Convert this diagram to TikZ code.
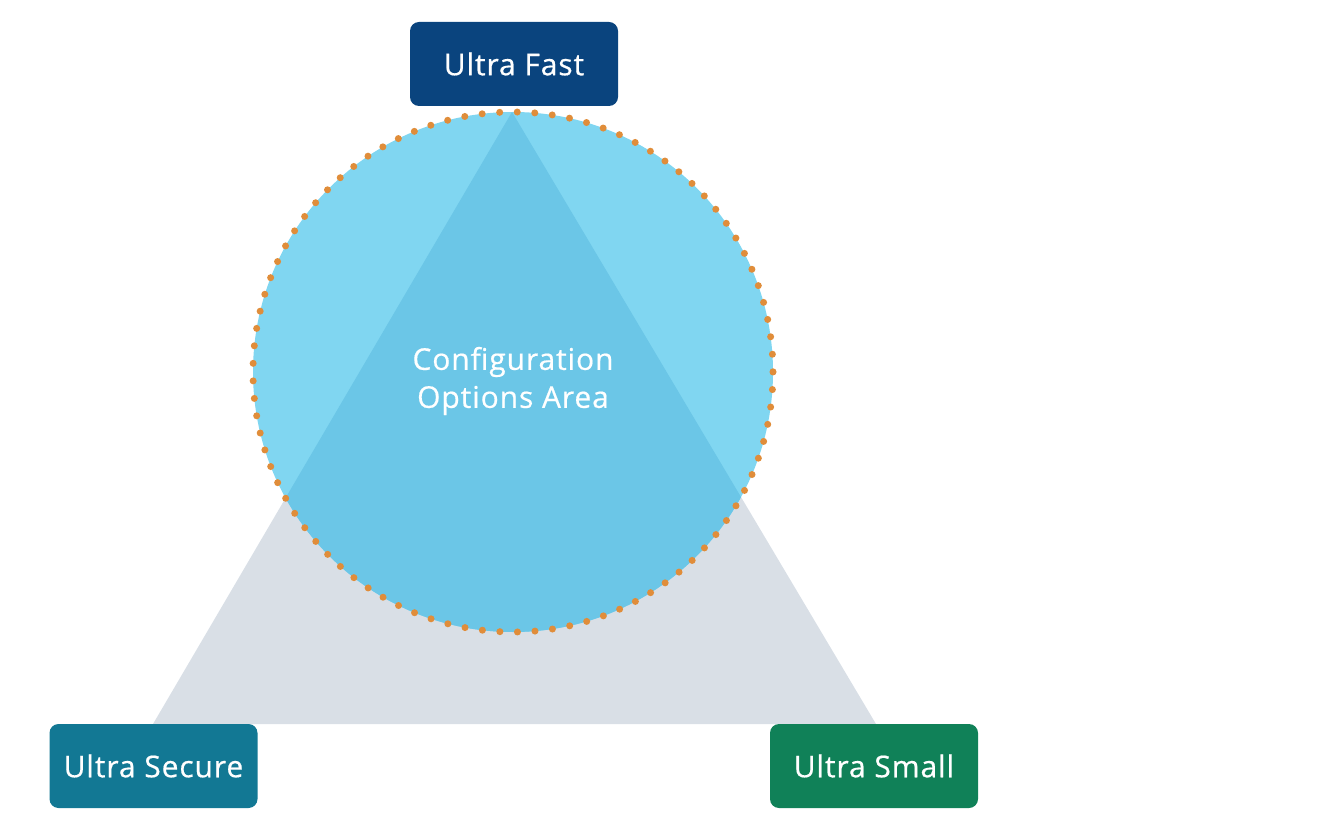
\documentclass[tikz,border=0pt]{standalone}
\usepackage{fontspec}
\setmainfont{Open Sans}[LetterSpace=3,FakeBold=0.5]
\definecolor{fastc}{HTML}{0A447E}
\definecolor{securec}{HTML}{127894}
\definecolor{smallc}{HTML}{108158}
\definecolor{circc}{HTML}{80D6F1}
\definecolor{overc}{HTML}{6BC6E7}
\definecolor{tric}{HTML}{D9DFE6}
\definecolor{dotc}{HTML}{E08D3A}
\tikzset{
  labelbox/.style={rounded corners=9pt, minimum width=208pt, minimum height=84pt, inner sep=0pt, text=white, font=\fontsize{30}{36}\selectfont},
}
\begin{document}
\begin{tikzpicture}[x=1pt,y=-1pt]
\useasboundingbox (0,0) rectangle (1334,834);
\coordinate (apex) at (512,112);
\coordinate (bl) at (153,724);
\coordinate (br) at (876,724);
\coordinate (cc) at (513,372);
\fill[tric] (apex) -- (bl) -- (br) -- cycle;
\fill[circc] (cc) circle (260);
\begin{scope}
  \clip (cc) circle (260);
  \fill[overc] (apex) -- (bl) -- (br) -- cycle;
\end{scope}
\draw[dotc, line width=7pt, line cap=round, dash pattern=on 0pt off 17.566pt] (cc) circle (260);
\node[text=white, align=center, font=\fontsize{30}{38}\selectfont] (area) at (513,381) {Configuration\\Options Area};
\node[labelbox, fill=fastc] (fast) at (514,64) {Ultra Fast};
\node[labelbox, fill=securec] (secure) at (153.5,766) {Ultra Secure};
\node[labelbox, fill=smallc] (small) at (874,766) {Ultra Small};
\end{tikzpicture}
\end{document}
